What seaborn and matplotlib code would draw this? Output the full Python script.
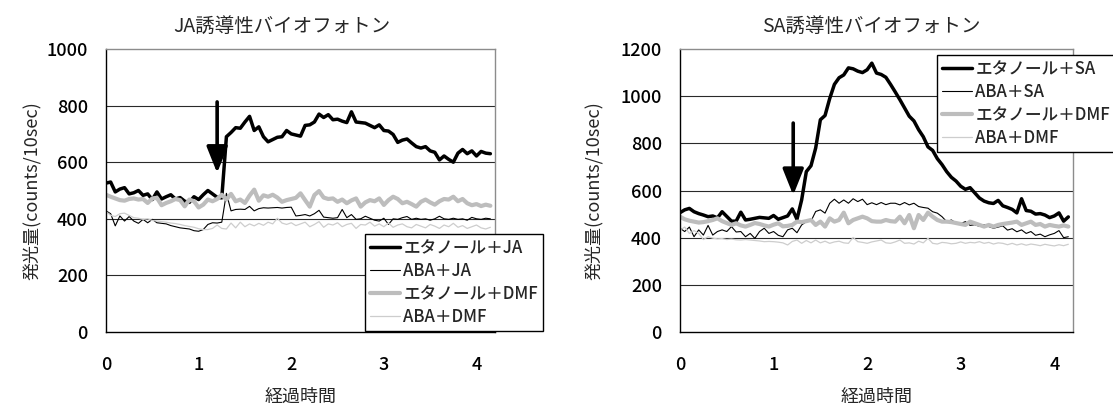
import numpy as np
import pandas as pd
import matplotlib
matplotlib.use("Agg")
import matplotlib.pyplot as plt
import seaborn as sns

sns.set_style("white")
plt.rcParams['font.family'] = ['Noto Sans CJK JP', 'DejaVu Sans']
plt.rcParams['font.weight'] = 500

# sampling grid (hours), 0.00 .. 4.15 step 0.05
time_h = np.round(np.arange(84) * 0.05, 2)

# --- JA chart ---
ja_etoh_ja = [526, 530, 495, 505, 510, 488, 492, 500, 483, 488,
              468, 495, 470, 478, 485, 470, 475, 462, 458, 478,
              468, 485, 500, 488, 476, 474, 690, 705, 722, 720,
              742, 762, 712, 725, 690, 672, 680, 688, 690, 712,
              700, 696, 692, 730, 732, 742, 770, 758, 768, 750,
              752, 745, 740, 778, 742, 740, 738, 730, 722, 732,
              712, 710, 698, 670, 678, 682, 668, 655, 650, 655,
              640, 635, 608, 622, 610, 600, 632, 645, 630, 640,
              622, 638, 632, 630]
ja_aba_ja = [428, 418, 375, 410, 392, 408, 392, 384, 398, 386,
             398, 386, 384, 382, 376, 372, 368, 366, 364, 358,
             356, 362, 380, 386, 385, 388, 490, 428, 433, 434,
             433, 444, 428, 436, 439, 438, 439, 440, 438, 440,
             441, 410, 412, 415, 410, 418, 430, 406, 404, 402,
             404, 433, 404, 415, 398, 400, 409, 402, 395, 392,
             402, 380, 400, 398, 404, 408, 398, 402, 398, 400,
             395, 400, 409, 400, 398, 402, 398, 400, 395, 405,
             400, 398, 402, 400]
ja_etoh_dmf = [485, 478, 472, 466, 464, 470, 472, 468, 470, 456,
               472, 474, 448, 456, 462, 470, 466, 444, 468, 462,
               440, 450, 468, 462, 470, 485, 468, 488, 462, 468,
               456, 482, 503, 464, 483, 478, 485, 475, 460, 466,
               470, 474, 490, 466, 443, 484, 498, 475, 470, 472,
               460, 468, 455, 465, 472, 443, 458, 466, 462, 472,
               449, 466, 478, 470, 455, 460, 452, 443, 460, 468,
               458, 450, 462, 470, 468, 478, 462, 470, 455, 448,
               452, 445, 450, 446]
ja_aba_dmf = [426, 412, 408, 418, 420, 412, 404, 402, 398, 400,
              394, 392, 390, 388, 385, 383, 380, 376, 373, 370,
              365, 362, 362, 366, 378, 366, 364, 385, 368, 388,
              372, 382, 375, 384, 377, 388, 382, 402, 385, 380,
              386, 376, 382, 388, 372, 380, 390, 370, 382, 378,
              386, 372, 380, 384, 366, 380, 378, 388, 374, 382,
              372, 385, 370, 378, 382, 372, 368, 380, 374, 368,
              380, 374, 366, 378, 372, 384, 370, 376, 366, 372,
              378, 368, 364, 370]

# --- SA chart ---
sa_etoh_sa = [506, 518, 524, 510, 502, 496, 489, 492, 484, 510,
              490, 470, 470, 508, 475, 478, 482, 486, 484, 482,
              494, 478, 485, 492, 522, 478, 560, 680, 705, 780,
              900, 918, 990, 1050, 1078, 1090, 1120, 1116, 1106, 1100,
              1112, 1140, 1098, 1092, 1080, 1050, 1018, 985, 950, 915,
              895, 858, 828, 785, 770, 735, 710, 680, 656, 640,
              618, 605, 612, 590, 568, 555, 548, 545, 558, 535,
              528, 520, 505, 565, 515, 512, 500, 502, 496, 485,
              492, 505, 470, 488]
sa_aba_sa = [440, 426, 445, 404, 433, 411, 452, 411, 426, 433,
             426, 447, 424, 426, 404, 418, 397, 426, 440, 418,
             426, 410, 404, 433, 440, 421, 454, 468, 470, 511,
             518, 504, 546, 563, 546, 560, 546, 565, 553, 563,
             540, 548, 540, 549, 540, 546, 546, 539, 549, 539,
             546, 532, 528, 525, 510, 504, 489, 468, 475, 462,
             460, 468, 452, 455, 448, 455, 447, 440, 445, 450,
             432, 438, 425, 433, 418, 426, 410, 415, 404, 412,
             418, 430, 400, 404]
sa_etoh_dmf = [489, 478, 472, 468, 464, 466, 470, 475, 482, 470,
               462, 454, 461, 452, 447, 454, 462, 458, 452, 447,
               455, 461, 448, 450, 454, 468, 466, 470, 475, 454,
               468, 447, 482, 468, 475, 506, 461, 475, 482, 489,
               482, 470, 468, 468, 475, 470, 468, 489, 461, 496,
               440, 496, 475, 506, 489, 475, 468, 468, 466, 462,
               458, 454, 468, 461, 454, 447, 454, 447, 454, 458,
               461, 464, 468, 454, 461, 468, 454, 458, 447, 454,
               450, 447, 452, 447]
sa_aba_dmf = [432, 445, 418, 430, 418, 392, 404, 398, 395, 396,
              392, 394, 391, 390, 392, 390, 388, 386, 383, 384,
              383, 381, 378, 369, 384, 390, 376, 388, 378, 390,
              378, 385, 376, 382, 385, 378, 376, 401, 383, 380,
              376, 382, 386, 390, 378, 376, 382, 390, 376, 378,
              373, 385, 378, 397, 376, 373, 380, 378, 374, 376,
              382, 376, 380, 378, 383, 376, 380, 373, 378, 376,
              370, 376, 369, 374, 368, 373, 370, 366, 372, 368,
              365, 370, 366, 372]

ja_labels = ["エタノール＋JA", "ABA＋JA", "エタノール＋DMF", "ABA＋DMF"]
sa_labels = ["エタノール＋SA", "ABA＋SA", "エタノール＋DMF", "ABA＋DMF"]
titles = ["JA誘導性バイオフォトン", "SA誘導性バイオフォトン"]
x_ticks = [0, 1, 2, 3, 4]
ja_yticks = [0, 200, 400, 600, 800, 1000]
sa_yticks = [0, 200, 400, 600, 800, 1000, 1200]
xlabel = "経過時間"
ylabel = "発光量(counts/10sec)"
arrow_ja = (1.2, 813, 562)   # x, start y, tip y
arrow_sa = (1.21, 886, 580)

styles = [dict(color="black", lw=2.5),
          dict(color="black", lw=0.8),
          dict(color="#bdbdbd", lw=3.0),
          dict(color="#cdcdcd", lw=0.9)]

W, H = 1113, 407
fig = plt.figure(figsize=(W / 100, H / 100), dpi=100)
AX1 = (106, 495)
AX2 = (680, 1073)
ax1 = fig.add_axes([AX1[0] / W, 1 - 332 / H, (AX1[1] - AX1[0]) / W, 283 / H])
ax2 = fig.add_axes([AX2[0] / W, 1 - 332 / H, (AX2[1] - AX2[0]) / W, 283 / H])

FS = 13
FS_TITLE = 14
FS_LEG = 12

def draw(ax, span, series, labels, yticks, title, title_cx, ylab_right, arrow, leg_xy):
    for vals, lab, st in zip(series, labels, styles):
        df = pd.DataFrame({"t": time_h, "v": vals})
        sns.lineplot(data=df, x="t", y="v", ax=ax, color=st["color"],
                     linewidth=st["lw"], label=lab, legend=False)
    ax.set_xlim(0, 4.2)
    ax.set_ylim(yticks[0], yticks[-1])
    ax.set_xticks(x_ticks)
    ax.set_yticks(yticks)
    ax.set_yticklabels([str(v) for v in yticks], fontsize=FS)
    ax.set_xticklabels([str(v) for v in x_ticks], fontsize=FS)
    for y in yticks[1:-1]:
        ax.axhline(y, color="#2a2a2a", lw=0.8, zorder=0.5)
    ax.tick_params(axis="x", direction="in", length=5, width=0.8, pad=17, colors="black")
    ax.tick_params(axis="y", direction="in", length=4, width=0.8, pad=13, colors="black")
    ax.grid(False)
    for s in ["left", "bottom"]:
        ax.spines[s].set_color("black")
        ax.spines[s].set_linewidth(1.0)
    for s in ["top", "right"]:
        ax.spines[s].set_color("#8c8c8c")
        ax.spines[s].set_linewidth(1.0)
    wpx = span[1] - span[0]
    ax.set_title(title, fontsize=FS_TITLE, pad=12, x=(title_cx - span[0]) / wpx)
    ax.set_xlabel(xlabel, fontsize=FS, labelpad=10)
    ax.set_ylabel(ylabel, fontsize=FS)
    ax.yaxis.set_label_coords((ylab_right - span[0]) / wpx, 0.5)
    ax.annotate("", xy=(arrow[0], arrow[2]), xytext=(arrow[0], arrow[1]),
                arrowprops=dict(arrowstyle="-|>,head_length=0.5,head_width=0.2",
                                mutation_scale=32, lw=2.6, color="black",
                                shrinkA=0, shrinkB=0), zorder=5)
    leg = ax.legend(loc="upper left", bbox_to_anchor=(leg_xy[0] / W, 1 - leg_xy[1] / H),
                    bbox_transform=fig.transFigure, fontsize=FS_LEG, frameon=True,
                    fancybox=False, framealpha=1, edgecolor="black",
                    borderpad=0.3, labelspacing=0.3, handlelength=1.8,
                    handletextpad=0.2, borderaxespad=0)
    leg.get_frame().set_linewidth(1.0)

draw(ax1, AX1, [ja_etoh_ja, ja_aba_ja, ja_etoh_dmf, ja_aba_dmf], ja_labels,
     ja_yticks, titles[0], 282, 41, arrow_ja, (365, 234))
draw(ax2, AX2, [sa_etoh_sa, sa_aba_sa, sa_etoh_dmf, sa_aba_dmf], sa_labels,
     sa_yticks, titles[1], 871, 603, arrow_sa, (937, 55))

fig.savefig("out.png", dpi=100)
